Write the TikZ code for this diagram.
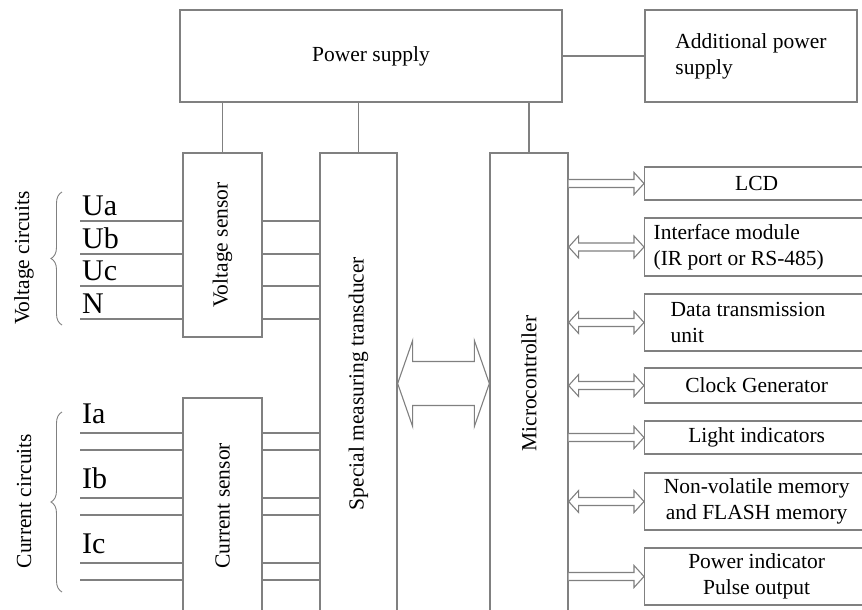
\documentclass[tikz,border=0pt]{standalone}
\usepackage{graphicx}
\usepackage{fontspec}
\setmainfont{Liberation Serif}
\definecolor{emgray}{RGB}{128,128,128}
\usetikzlibrary{arrows.meta,positioning,calc,decorations.pathreplacing}

% hollow arrows: #1 start, #2 end, #3 half shaft, #4 half head, #5 head length
\newcommand{\emdblarrow}[5]{%
  \draw[emhollow] (#1) -- ++(#5,-#4) -- ++(0,#4-#3) -- ($(#2)+(-#5,-#3)$) -- ++(0,#3-#4)
    -- (#2) -- ++(-#5,#4) -- ++(0,#3-#4) -- ($(#1)+(#5,#3)$) -- ++(0,#4-#3) -- cycle;}
\newcommand{\emsglarrow}[5]{%
  \draw[emhollow] ($(#1)+(0,-#3)$) -- ($(#2)+(-#5,-#3)$) -- ++(0,#3-#4)
    -- (#2) -- ++(-#5,#4) -- ++(0,#3-#4) -- ($(#1)+(0,#3)$);}

\begin{document}
\begin{tikzpicture}[x=1pt,y=-1pt,
  emblk/.style={draw=emgray,line width=1.3pt,inner sep=0pt,align=flush center,
    font=\fontsize{21.5}{26}\selectfont},
  emwire/.style={emgray,line width=1.3pt},
  emhollow/.style={draw=emgray,fill=white,line width=1.1pt,line join=miter},
  emlbl/.style={inner sep=0pt,anchor=base west,font=\fontsize{30}{30}\selectfont}
]
  \path[use as bounding box,fill=white] (0,0) rectangle (862,610);
  % Supply (top)
  \node[emblk,minimum width=382pt,minimum height=92pt] (psu) at (371,56) {Power supply};
  \node[emblk,minimum width=212pt,minimum height=92pt,align=flush left] (aps) at (751,56) {
    Additional power\\
    supply};
  % Sensors, transducer, microcontroller
  \node[emblk,minimum width=79pt,minimum height=184pt] (vs) at (222.5,245) {\rotatebox{90}{Voltage sensor}};
  \node[emblk,minimum width=79pt,minimum height=216pt] (cs) at (222.5,506) {\rotatebox{90}{Current sensor}};
  \node[emblk,minimum width=77pt,minimum height=461pt] (smt) at (358.5,383.5) {\rotatebox{90}{Special measuring transducer}};
  \node[emblk,minimum width=78pt,minimum height=461pt] (mcu) at (529,383.5) {\rotatebox{90}{Microcontroller}};
  % Peripherals (right)
  \node[emblk,anchor=west,minimum width=224pt,minimum height=33pt] (lcd) at (644,183.5) {LCD};
  \node[emblk,anchor=west,minimum width=224pt,minimum height=58pt,text width=206pt,align=flush left] (ifm) at (644,247) {
    Interface module\\
    (IR port or RS-485)};
  \node[emblk,anchor=west,minimum width=224pt,minimum height=57pt,text width=172pt,align=flush left] (dtu) at (644,322.5) {
    Data transmission\\
    unit};
  \node[emblk,anchor=west,minimum width=224pt,minimum height=35pt] (clk) at (644,385.5) {Clock Generator};
  \node[emblk,anchor=west,minimum width=224pt,minimum height=33pt] (led) at (644,437.5) {Light indicators};
  \node[emblk,anchor=west,minimum width=224pt,minimum height=57pt] (nvm) at (644,501.5) {
    Non-volatile memory\\
    and FLASH memory};
  \node[emblk,anchor=west,minimum width=224pt,minimum height=57pt] (pwr) at (644,576.5) {
    Power indicator\\
    Pulse output};
  % Supply lines
  \draw[emwire] (psu.east) -- (aps.west);
  \draw[emwire] (psu.south -| vs.north) -- (vs.north);
  \draw[emwire] (psu.south -| smt.north) -- (smt.north);
  \draw[emwire] (psu.south -| mcu.north) -- (mcu.north);
  % Voltage inputs
  \node[emlbl] (ua) at (82,215) {Ua};
  \node[emlbl] (ub) at (82,248) {Ub};
  \node[emlbl] (uc) at (82,280) {Uc};
  \node[emlbl] (un) at (82,313) {N};
  \coordinate (ua0) at (80,221);
  \coordinate (ub0) at (80,254);
  \coordinate (uc0) at (80,286);
  \coordinate (un0) at (80,319);
  \draw[emwire] (ua0) -- (ua0 -| vs.west) (ua0 -| vs.east) -- (ua0 -| smt.west);
  \draw[emwire] (ub0) -- (ub0 -| vs.west) (ub0 -| vs.east) -- (ub0 -| smt.west);
  \draw[emwire] (uc0) -- (uc0 -| vs.west) (uc0 -| vs.east) -- (uc0 -| smt.west);
  \draw[emwire] (un0) -- (un0 -| vs.west) (un0 -| vs.east) -- (un0 -| smt.west);
  \draw[emwire,line width=0.9pt,decorate,decoration={brace,amplitude=11pt}] (62,325) -- (62,192);
  \node[rotate=90,inner sep=0pt,font=\fontsize{21.5}{26}\selectfont] (vcirc) at (24,258) {Voltage circuits};
  % Current inputs
  \node[emlbl] (ia) at (82,423) {Ia};
  \node[emlbl] (ib) at (82,488) {Ib};
  \node[emlbl] (ic) at (82,553) {Ic};
  \coordinate (ia0) at (80,433);
  \coordinate (ia1) at (80,450);
  \coordinate (ib0) at (80,498);
  \coordinate (ib1) at (80,515);
  \coordinate (ic0) at (80,563);
  \coordinate (ic1) at (80,580);
  \draw[emwire] (ia0) -- (ia0 -| cs.west) (ia0 -| cs.east) -- (ia0 -| smt.west);
  \draw[emwire] (ia1) -- (ia1 -| cs.west) (ia1 -| cs.east) -- (ia1 -| smt.west);
  \draw[emwire] (ib0) -- (ib0 -| cs.west) (ib0 -| cs.east) -- (ib0 -| smt.west);
  \draw[emwire] (ib1) -- (ib1 -| cs.west) (ib1 -| cs.east) -- (ib1 -| smt.west);
  \draw[emwire] (ic0) -- (ic0 -| cs.west) (ic0 -| cs.east) -- (ic0 -| smt.west);
  \draw[emwire] (ic1) -- (ic1 -| cs.west) (ic1 -| cs.east) -- (ic1 -| smt.west);
  \draw[emwire,line width=0.9pt,decorate,decoration={brace,amplitude=11pt}] (62,592) -- (62,412);
  \node[rotate=90,inner sep=0pt,font=\fontsize{21.5}{26}\selectfont] (ccirc) at (24,501) {Current circuits};
  % Data bus and peripheral links
  \emdblarrow{smt.east}{mcu.west}{22}{43}{15}
  \emsglarrow{mcu.east |- lcd.west}{lcd.west}{4}{11}{10}
  \emdblarrow{mcu.east |- ifm.west}{ifm.west}{4}{11}{10}
  \emdblarrow{mcu.east |- dtu.west}{dtu.west}{4}{11}{10}
  \emdblarrow{mcu.east |- clk.west}{clk.west}{4}{11}{10}
  \emsglarrow{mcu.east |- led.west}{led.west}{4}{11}{10}
  \emdblarrow{mcu.east |- nvm.west}{nvm.west}{4}{11}{10}
  \emsglarrow{mcu.east |- pwr.west}{pwr.west}{4}{11}{10}
\end{tikzpicture}
\end{document}
